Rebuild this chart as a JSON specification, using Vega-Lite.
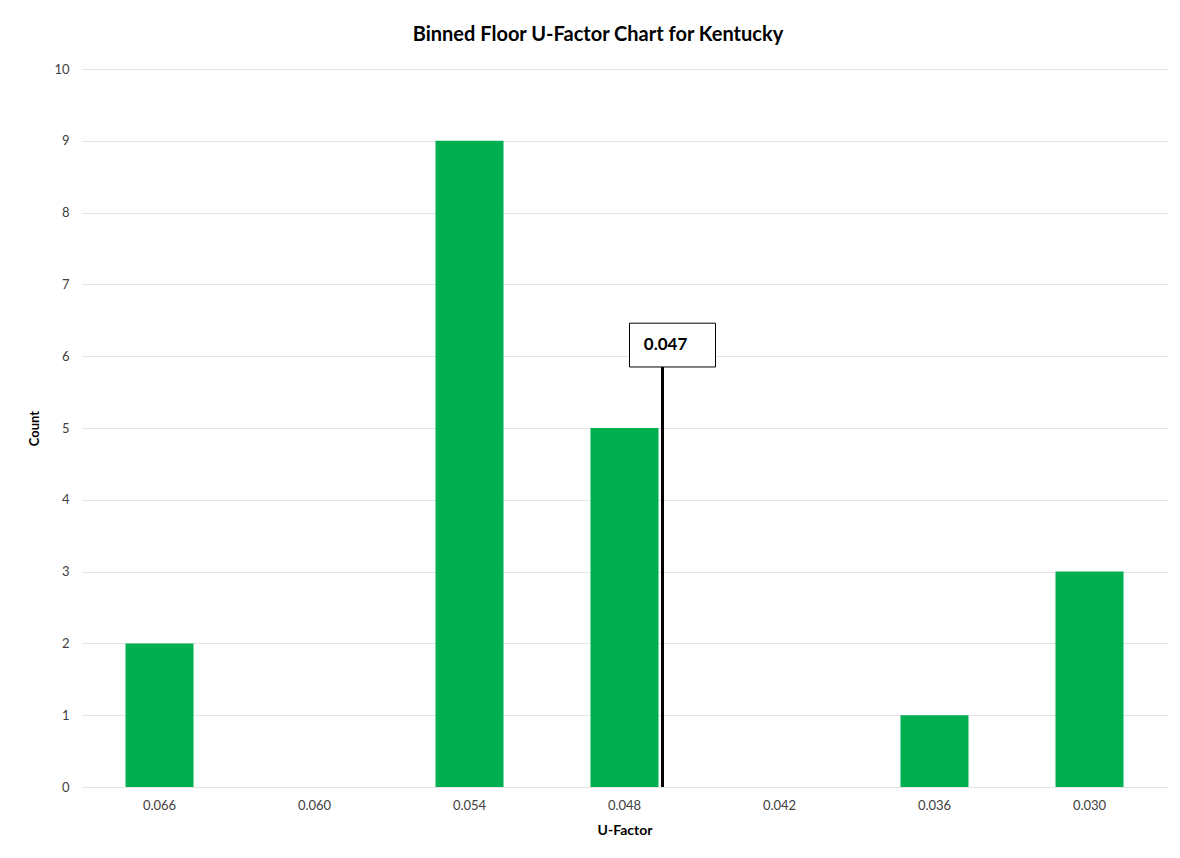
{
  "$schema": "https://vega.github.io/schema/vega-lite/v6.json",
  "autosize": "none",
  "width": 1085,
  "height": 718,
  "padding": {"left": 82, "top": 69, "right": 13, "bottom": 71},
  "background": "white",
  "config": {"view": {"stroke": null}, "font": "Lato"},
  "title": {"text": "Binned Floor U-Factor Chart for Kentucky", "fontSize": 20, "fontWeight": "bold", "font": "Lato", "color": "#000000", "anchor": "middle", "frame": "bounds", "offset": 18},
  "datasets": {
    "bins": [
      {"ufactor": "0.066", "count": 2},
      {"ufactor": "0.060", "count": 0},
      {"ufactor": "0.054", "count": 9},
      {"ufactor": "0.048", "count": 5},
      {"ufactor": "0.042", "count": 0},
      {"ufactor": "0.036", "count": 1},
      {"ufactor": "0.030", "count": 3}
    ],
    "marker": [
      {"ufactor": "0.048", "label": "0.047", "base": 0, "top": 5.85, "boxTop": 6.46, "mid": 6.15}
    ]
  },
  "layer": [
    {
      "data": {"name": "bins"},
      "mark": {"type": "bar", "color": "#00B050", "width": 68},
      "encoding": {
        "x": {"field": "ufactor", "type": "ordinal", "sort": null, "title": "U-Factor",
          "axis": {"labelAngle": 0, "labelFontSize": 13, "labelColor": "#404040", "labelPadding": 12, "ticks": false, "domain": false,
            "titleFontSize": 14, "titleFontWeight": "bold", "titleColor": "#000000", "titlePadding": 11}},
        "y": {"field": "count", "type": "quantitative", "title": "Count", "scale": {"domain": [0, 10]},
          "axis": {"values": [0,1,2,3,4,5,6,7,8,9,10], "format": "d", "labelFontSize": 13, "labelColor": "#404040", "labelPadding": 13, "ticks": false, "domain": false,
            "gridColor": "#E3E3E3", "gridWidth": 1, "titleFontSize": 13, "titleFontWeight": "bold", "titleColor": "#000000", "titlePadding": 12}}
      }
    },
    {
      "data": {"name": "marker"},
      "mark": {"type": "rule", "color": "#000000", "strokeWidth": 3, "xOffset": 38},
      "encoding": {
        "x": {"field": "ufactor", "type": "ordinal", "sort": null},
        "y": {"field": "base", "type": "quantitative"},
        "y2": {"field": "top"}
      }
    },
    {
      "data": {"name": "marker"},
      "mark": {"type": "bar", "fill": "white", "stroke": "#000000", "strokeWidth": 1, "width": 86, "xOffset": 48},
      "encoding": {
        "x": {"field": "ufactor", "type": "ordinal", "sort": null},
        "y": {"field": "top", "type": "quantitative"},
        "y2": {"field": "boxTop"}
      }
    },
    {
      "data": {"name": "marker"},
      "mark": {"type": "text", "fontSize": 17, "fontWeight": "bold", "color": "#000000", "xOffset": 41, "align": "center", "baseline": "middle"},
      "encoding": {
        "x": {"field": "ufactor", "type": "ordinal", "sort": null},
        "y": {"field": "mid", "type": "quantitative"},
        "text": {"field": "label"}
      }
    }
  ]
}
